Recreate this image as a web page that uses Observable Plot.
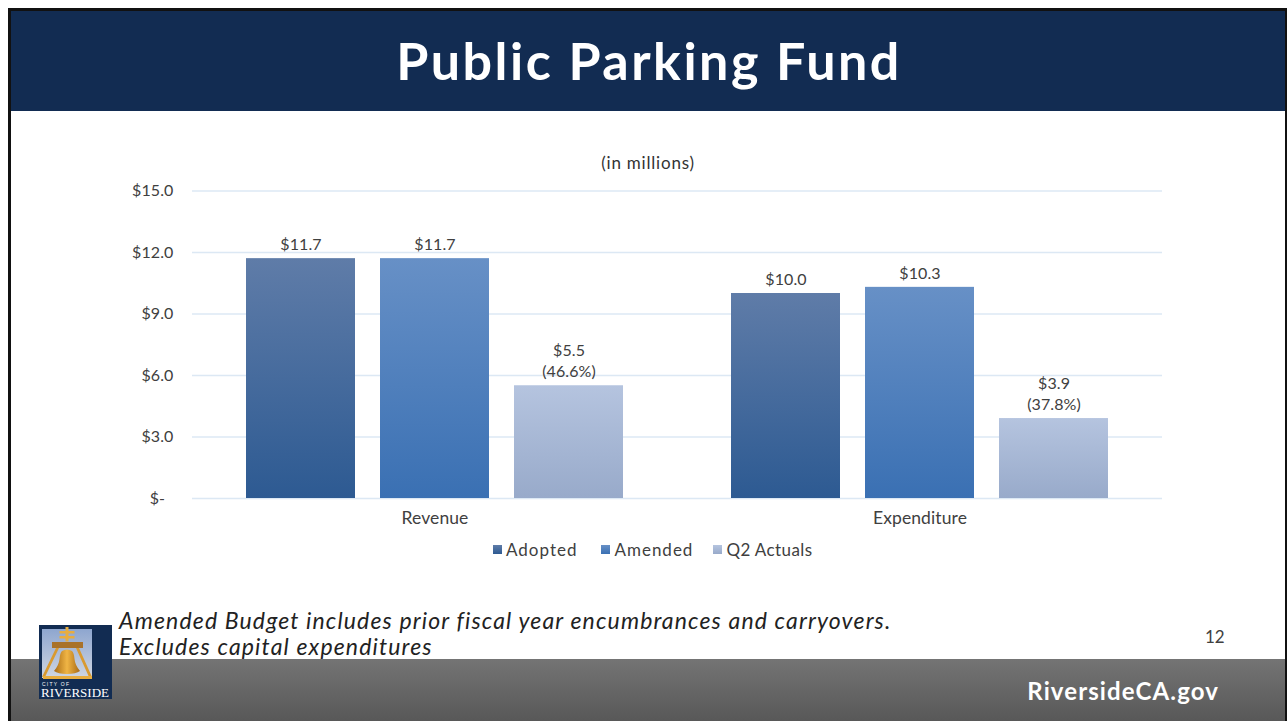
<!DOCTYPE html>
<html><head><meta charset="utf-8">
<script src="https://cdn.jsdelivr.net/npm/d3@7"></script>
<script src="https://cdn.jsdelivr.net/npm/@observablehq/plot@0.6"></script>
<style>
html,body{margin:0;padding:0;background:#fff;width:1288px;height:721px;overflow:hidden;font-family:Lato,sans-serif}
.abs{position:absolute}
#frame{left:8px;top:8px;width:1279px;height:713px;border:solid #111;border-width:3px 2px 0 3px;box-sizing:border-box}
#head{left:11px;top:11px;width:1272px;padding-left:2px;height:100px;background:#122c52;color:#fff;font:700 52px Lato,sans-serif;letter-spacing:2.5px;text-align:center;line-height:98px}
#foot{left:11px;top:659px;width:1274px;height:62px;background:linear-gradient(#747474,#585858)}
#site{right:69px;top:676px;color:#fff;font:700 24px Lato,sans-serif;letter-spacing:1.1px}
#chart{left:0;top:170px}
#sub{left:448px;width:400px;top:152px;text-align:center;font-size:17px;letter-spacing:.8px;color:#333}
#legend{left:493px;top:539px;font-size:17px;letter-spacing:1px;color:#404040;display:flex;gap:24px;align-items:center}
#legend span.i{display:flex;align-items:center;gap:4px}
#legend span.i:last-child{margin-left:-4px;letter-spacing:.4px}
#legend i{display:block;width:9px;height:9px}
#note{left:119px;top:607px;font:italic 23px/26px Lato,sans-serif;letter-spacing:1.15px;color:#222;white-space:nowrap}
#num{left:1205px;top:626px;font-size:17px;color:#404040}
#logo{left:39px;top:625px}
</style></head><body>
<div class="abs" id="frame"></div>
<div class="abs" id="foot"></div>
<div class="abs" id="head">Public Parking Fund</div>
<div class="abs" id="sub">(in millions)</div>
<div class="abs" id="chart"></div>
<div class="abs" id="legend"></div>
<div class="abs" id="note">Amended Budget includes prior fiscal year encumbrances and carryovers.<br>Excludes capital expenditures</div>
<div class="abs" id="num">12</div>
<div class="abs" id="site">RiversideCA.gov</div>
<svg class="abs" id="logo" width="73" height="74" viewBox="0 0 73 74">
<defs>
<linearGradient id="sky" x1="0" x2="0" y1="0" y2="1"><stop offset="0" stop-color="#8ea6cf"/><stop offset="1" stop-color="#cfd6e2"/></linearGradient>
<linearGradient id="bell" x1="0" x2="1" y1="0" y2="0"><stop offset="0" stop-color="#a86a14"/><stop offset=".5" stop-color="#f0b545"/><stop offset="1" stop-color="#a86a14"/></linearGradient>
</defs>
<rect width="73" height="74" fill="#122c52"/>
<rect x="3" y="4" width="50" height="49" fill="url(#sky)"/>
<path d="M26.5 2h3v4h6v2.500h-6v2.500h6v2.500h-6v3h-3v-3h-6V11h6V8.500h-6V6h6z" fill="#e8ad3f"/>
<rect x="13" y="17" width="31" height="6" fill="#a9722a"/>
<path d="M17 23h3L6 52H3zM37 23h3l13 29h-3z" fill="#d99a30"/>
<path d="M23 26q5-3 10 0 2 2 2.500 8t5.500 12q-4 3-13 3t-13-3q5-6 5.500-12t2.500-8z" fill="url(#bell)"/>
<rect x="4" y="51" width="49" height="3" fill="#e8ad3f"/>
<text x="3" y="61" font-size="5" fill="#fff" font-family="Liberation Sans" textLength="27">CITY OF</text>
<text x="2" y="71.500" font-size="13" fill="#fff" font-family="Liberation Serif" textLength="68" lengthAdjust="spacingAndGlyphs">RIVERSIDE</text>
</svg>
<script>
const categories = ["Revenue", "Expenditure"];
const seriesNames = ["Adopted", "Amended", "Q2 Actuals"];
const revenueValues = [11.7, 11.7, 5.5];
const expenditureValues = [10.0, 10.3, 3.9];
const revenueLabels = ["$11.7", "$11.7", "$5.5\n(46.6%)"];
const expenditureLabels = ["$10.0", "$10.3", "$3.9\n(37.8%)"];
const yTicks = [0, 3, 6, 9, 12, 15];
const yTickLabels = ["$-\u00a0\u00a0", "$3.0", "$6.0", "$9.0", "$12.0", "$15.0"];
const gradients = [["#5f7ca8", "#2d5a92"], ["#6790c6", "#3a70b3"], ["#b5c4df", "#98aaca"]];

const rows = categories.flatMap((c, ci) => seriesNames.map((s, i) => ({
  category: c, series: s,
  value: (ci ? expenditureValues : revenueValues)[i],
  label: (ci ? expenditureLabels : revenueLabels)[i]
})));
const gradId = s => "grad" + seriesNames.indexOf(s);
const defs = () => {
  const ns = "http://www.w3.org/2000/svg";
  const d = document.createElementNS(ns, "defs");
  seriesNames.forEach((s, i) => {
    const g = document.createElementNS(ns, "linearGradient");
    g.setAttribute("id", gradId(s)); g.setAttribute("x1", 0); g.setAttribute("x2", 0); g.setAttribute("y1", 0); g.setAttribute("y2", 1);
    gradients[i].forEach((c, k) => {
      const st = document.createElementNS(ns, "stop");
      st.setAttribute("offset", k); st.setAttribute("stop-color", c); g.appendChild(st);
    });
    d.appendChild(g);
  });
  return d;
};
const plot = Plot.plot({
  width: 1288, height: 368,
  marginLeft: 192, marginRight: 126, marginTop: 20.5, marginBottom: 40,
  style: {fontFamily: "Lato,sans-serif", fontSize: "16px", letterSpacing: "0.1px", color: "#404040", background: "transparent", overflow: "visible"},
  fx: {domain: categories, padding: 0, label: null, axis: null},
  x: {domain: seriesNames, paddingInner: 0.19, paddingOuter: 0.398, axis: null},
  y: {domain: [0, 15], ticks: yTicks, label: null},
  marks: [
    defs,
    Plot.ruleY(yTicks, {stroke: "#dce8f4", strokeWidth: 1.5}),
    Plot.axisY({ticks: yTicks, tickFormat: (d, i) => yTickLabels[i], tickSize: 0, tickPadding: 19, label: null, fontSize: 16}),
    Plot.axisFx({anchor: "bottom", label: null, tickSize: 0, tickPadding: 13, fontSize: 17.5}),
    Plot.barY(rows, {fx: "category", x: "series", y: "value", fill: d => `url(#${gradId(d.series)})`}),
    Plot.text(rows, {fx: "category", x: "series", y: "value", text: "label", dy: -8.5, lineAnchor: "bottom", lineHeight: 1.31, fontSize: 16, fill: "#404040"})
  ]
});
document.getElementById("chart").appendChild(plot);
const lg = document.getElementById("legend");
seriesNames.forEach((s, i) => {
  const e = document.createElement("span"); e.className = "i";
  const sw = document.createElement("i"); sw.style.background = `linear-gradient(${gradients[i][0]},${gradients[i][1]})`;
  const t = document.createElement("span"); t.textContent = s;
  e.append(sw, t); lg.appendChild(e);
});
</script>
</body></html>
